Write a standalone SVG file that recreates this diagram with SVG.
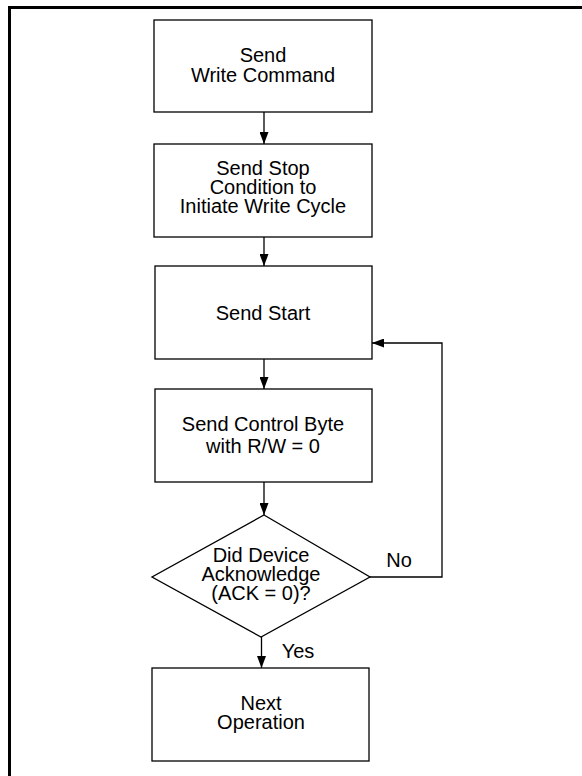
<svg xmlns="http://www.w3.org/2000/svg" width="582" height="776" viewBox="0 0 582 776">
<defs>
<marker id="ah" markerUnits="userSpaceOnUse" markerWidth="12" markerHeight="9" refX="12" refY="4.5" orient="auto">
<path d="M0,0 L12,4.5 L0,9 z" fill="#000"/>
</marker>
<style>
.n{fill:#fff;stroke:#000;stroke-width:1.3}
.t{font-family:"Liberation Sans",Arial,sans-serif;font-size:20px;fill:#000;text-anchor:middle}
.c{fill:none;stroke:#000;stroke-width:1.3;marker-end:url(#ah)}
</style>
</defs>
<rect width="582" height="776" fill="#fff"/>
<path d="M9.5,776 V7.5 H582" fill="none" stroke="#000" stroke-width="3"/>
<g id="connectors">
<path class="c" d="M264,112 V144"/>
<path class="c" d="M264,237 V266"/>
<path class="c" d="M264,359 V389"/>
<path class="c" d="M264,482 V515"/>
<path class="c" d="M261.5,637 V668"/>
<path class="c" d="M370,577 H442 V343 H372"/>
<text class="t" x="399" y="567">No</text>
<text class="t" x="298" y="658">Yes</text>
</g>
<g id="n1">
<rect class="n" x="154" y="20" width="218" height="92"/>
<text class="t" x="263" y="62">Send</text>
<text class="t" x="263" y="82">Write Command</text>
</g>
<g id="n2">
<rect class="n" x="154" y="144" width="218" height="93"/>
<text class="t" x="263" y="175">Send Stop</text>
<text class="t" x="263" y="194">Condition to</text>
<text class="t" x="263" y="213">Initiate Write Cycle</text>
</g>
<g id="n3">
<rect class="n" x="155" y="266" width="217" height="93"/>
<text class="t" x="263" y="320">Send Start</text>
</g>
<g id="n4">
<rect class="n" x="155" y="389" width="217" height="93"/>
<text class="t" x="263" y="431">Send Control Byte</text>
<text class="t" x="263" y="453">with R/W = 0</text>
</g>
<g id="n5">
<path class="n" d="M264,515 L370,577 L261,637 L152,577 z"/>
<text class="t" x="261" y="562">Did Device</text>
<text class="t" x="261" y="581">Acknowledge</text>
<text class="t" x="261" y="600">(ACK = 0)?</text>
</g>
<g id="n6">
<rect class="n" x="152" y="668" width="217" height="93"/>
<text class="t" x="261" y="710">Next</text>
<text class="t" x="261" y="729">Operation</text>
</g>
</svg>
